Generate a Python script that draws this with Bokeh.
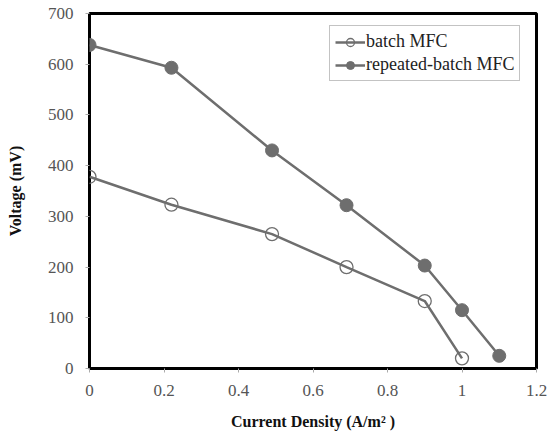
from bokeh.plotting import figure
from bokeh.models import FixedTicker, Legend, LegendItem
from bokeh.embed import file_html
from bokeh.resources import INLINE

x_batch = [0, 0.22, 0.49, 0.69, 0.90, 1.0]
v_batch = [378, 323, 265, 200, 133, 20]
x_rep = [0, 0.22, 0.49, 0.69, 0.90, 1.0, 1.1]
v_rep = [638, 593, 430, 322, 203, 115, 25]
x_ticks = [0, 0.2, 0.4, 0.6, 0.8, 1.0, 1.2]
y_ticks = [0, 100, 200, 300, 400, 500, 600, 700]

FONT = "Liberation Serif"
GRAY = "#6e6e6e"

p = figure(frame_width=447, frame_height=355, width=548, height=435,
           x_range=(0, 1.2), y_range=(0, 700),
           output_backend="svg", toolbar_location=None,
           min_border_left=89, min_border_right=12, min_border_top=13, min_border_bottom=67)
p.xgrid.visible = False
p.ygrid.visible = False
p.outline_line_color = "black"
p.outline_line_width = 3
p.background_fill_color = "white"
p.border_fill_color = "white"

for ax in (p.xaxis, p.yaxis):
    ax.axis_line_color = None
    ax.major_tick_line_color = "#aaaaaa"
    ax.major_tick_out = 4
    ax.major_tick_in = 0
    ax.minor_tick_line_color = None
    ax.major_label_text_font = FONT
    ax.major_label_text_font_size = "17px"
    ax.major_label_text_color = "#555555"
    ax.axis_label_text_font = FONT
    ax.axis_label_text_font_size = "16px"
    ax.axis_label_text_font_style = "bold"
    ax.axis_label_text_color = "#111111"

p.xaxis.ticker = FixedTicker(ticks=x_ticks)
p.yaxis.ticker = FixedTicker(ticks=y_ticks)
p.xaxis.major_label_overrides = {0: "0", 1: "1", 0.2: "0.2", 0.4: "0.4", 0.6: "0.6", 0.8: "0.8", 1.2: "1.2"}
p.xaxis.major_label_standoff = 12
p.yaxis.major_label_standoff = 12
p.xaxis.axis_label = "Current Density (A/m² )"
p.yaxis.axis_label = "Voltage (mV)"
p.xaxis.axis_label_standoff = 14
p.yaxis.axis_label_standoff = 21

l1 = p.line(x_batch, v_batch, line_color=GRAY, line_width=2.5)
c1 = p.scatter(x_batch, v_batch, marker="circle", size=13, fill_color=None,
               line_color=GRAY, line_width=1.3)
l2 = p.line(x_rep, v_rep, line_color=GRAY, line_width=2.5)
c2 = p.scatter(x_rep, v_rep, marker="circle", size=13, fill_color=GRAY,
               line_color=GRAY)

legend = Legend(items=[LegendItem(label="batch MFC", renderers=[l1, c1]),
                       LegendItem(label="repeated-batch MFC", renderers=[l2, c2])],
                location=(240, 287), border_line_color="#888888", border_line_width=1.5,
                label_text_font=FONT, label_text_font_size="18px",
                label_text_color="#222222", glyph_width=30, glyph_height=20,
                spacing=2, padding=5, margin=0, label_standoff=1,
                label_height=20)
p.add_layout(legend, "center")

open("out.html", "w").write(file_html(p, INLINE))
